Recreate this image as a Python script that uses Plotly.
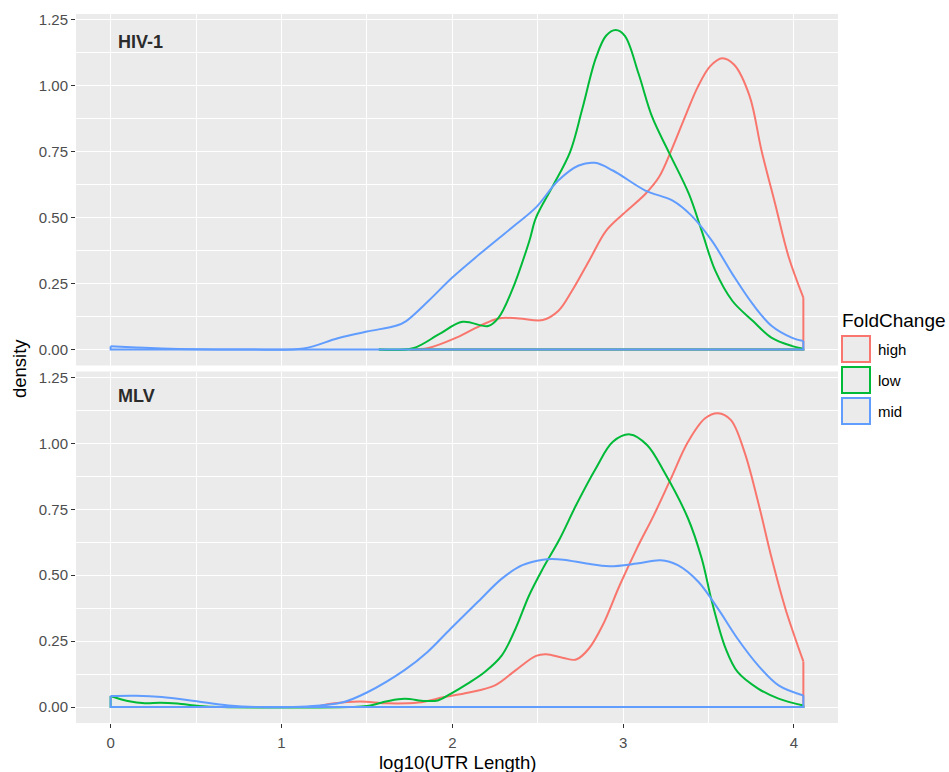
import plotly.graph_objects as go

# ---------------- data ----------------
groups = ["high", "low", "mid"]
colors = {"high": "#F8766D", "low": "#00BA38", "mid": "#619CFF"}

# HIV-1 panel
hiv_high_x = [1.75, 1.86, 2.02, 2.16, 2.27, 2.39, 2.53, 2.62, 2.70, 2.80, 2.90, 3.00, 3.13, 3.21,
              3.29, 3.37, 3.44, 3.51, 3.58, 3.65, 3.74, 3.81, 3.89, 3.97, 4.055]
hiv_high_y = [0.0, 0.006, 0.044, 0.089, 0.118, 0.118, 0.112, 0.146, 0.222, 0.336, 0.45, 0.514, 0.59, 0.654,
              0.768, 0.895, 1.0, 1.075, 1.105, 1.08, 0.962, 0.755, 0.552, 0.349, 0.197]

hiv_low_x = [1.57, 1.77, 1.92, 2.06, 2.21, 2.27, 2.35, 2.45, 2.49, 2.585, 2.69, 2.76, 2.84, 2.90, 2.956,
             3.01, 3.09, 3.17, 3.27, 3.385, 3.46, 3.54, 3.64, 3.76, 3.87, 3.99, 4.055]
hiv_low_y = [0.0, 0.005, 0.057, 0.105, 0.089, 0.12, 0.225, 0.41, 0.50, 0.616, 0.75, 0.91, 1.105, 1.19, 1.212,
             1.19, 1.047, 0.882, 0.745, 0.59, 0.45, 0.298, 0.184, 0.108, 0.044, 0.013, 0.003]

hiv_mid_x = [0.0, 0.15, 0.3, 0.5, 0.8, 1.13, 1.33, 1.5, 1.675, 1.73, 1.86, 2.0, 2.16, 2.35, 2.49, 2.62,
             2.74, 2.835, 2.94, 3.13, 3.29, 3.40, 3.52, 3.64, 3.76, 3.87, 3.99, 4.055]
hiv_mid_y = [0.012, 0.008, 0.004, 0.001, 0.0, 0.004, 0.043, 0.068, 0.091, 0.108, 0.184, 0.273, 0.362, 0.463,
             0.539, 0.641, 0.698, 0.708, 0.679, 0.603, 0.565, 0.508, 0.412, 0.286, 0.171, 0.089, 0.044, 0.032]

# MLV panel
mlv_high_x = [1.2, 1.30, 1.46, 1.62, 1.80, 1.955, 2.09, 2.25, 2.37, 2.49, 2.55, 2.65, 2.725, 2.80, 2.88,
              2.98, 3.08, 3.18, 3.28, 3.38, 3.48, 3.555, 3.63, 3.71, 3.79, 3.87, 3.95, 4.055]
mlv_high_y = [0.0, 0.013, 0.021, 0.014, 0.017, 0.038, 0.054, 0.082, 0.139, 0.194, 0.2, 0.186, 0.18, 0.222, 0.31,
              0.462, 0.601, 0.728, 0.867, 1.006, 1.095, 1.114, 1.089, 0.968, 0.778, 0.563, 0.373, 0.173]

mlv_low_x = [0.0, 0.1, 0.2, 0.29, 0.39, 0.52, 0.65, 1.4, 1.5, 1.62, 1.72, 1.84, 1.915, 1.99, 2.09, 2.19,
             2.29, 2.37, 2.45, 2.53, 2.63, 2.725, 2.84, 2.94, 3.04, 3.14, 3.24, 3.38, 3.46, 3.52, 3.60,
             3.67, 3.79, 3.91, 4.055]
mlv_low_y = [0.042, 0.023, 0.014, 0.016, 0.013, 0.004, 0.0, 0.0, 0.004, 0.022, 0.031, 0.023, 0.025, 0.05, 0.089,
             0.133, 0.196, 0.297, 0.424, 0.525, 0.639, 0.766, 0.905, 1.006, 1.034, 0.994, 0.892, 0.715,
             0.563, 0.399, 0.222, 0.133, 0.07, 0.032, 0.006]

mlv_mid_x = [0.0, 0.15, 0.3, 0.49, 0.69, 0.85, 1.15, 1.36, 1.5, 1.72, 1.855, 1.99, 2.15, 2.29, 2.41, 2.53,
             2.65, 2.785, 2.92, 3.08, 3.22, 3.32, 3.44, 3.555, 3.67, 3.79, 3.91, 4.055]
mlv_mid_y = [0.042, 0.043, 0.038, 0.023, 0.006, 0.0, 0.002, 0.018, 0.055, 0.14, 0.209, 0.297, 0.399, 0.487,
             0.538, 0.559, 0.559, 0.544, 0.534, 0.544, 0.557, 0.538, 0.475, 0.373, 0.259, 0.158, 0.082, 0.044]

panels = [
    ("HIV-1", {"high": (hiv_high_x, hiv_high_y), "low": (hiv_low_x, hiv_low_y), "mid": (hiv_mid_x, hiv_mid_y)}),
    ("MLV", {"high": (mlv_high_x, mlv_high_y), "low": (mlv_low_x, mlv_low_y), "mid": (mlv_mid_x, mlv_mid_y)}),
]

x_ticks = [0, 1, 2, 3, 4]
x_tick_labels = ["0", "1", "2", "3", "4"]
y_ticks = [0.0, 0.25, 0.5, 0.75, 1.0, 1.25]
y_tick_labels = ["0.00", "0.25", "0.50", "0.75", "1.00", "1.25"]

# ---------------- layout geometry ----------------
W, H = 949, 772
L, R, T, B = 76, 111, 14, 49
PW, PH = W - L - R, H - T - B
gap = 6
panel_h = (PH - gap) / 2.0

def px_x(px):
    return (px - L) / PW

def px_y(py):
    return (H - B - py) / PH

x_range = [-0.2028, 4.2578]
y_range = [-0.0606, 1.2726]
FONT = "Liberation Sans, Arial, Helvetica, sans-serif"

fig = go.Figure()

for pi, (pname, pdata) in enumerate(panels):
    xa = "x" if pi == 0 else "x2"
    ya = "y" if pi == 0 else "y2"
    for g in groups:
        xs, ys = pdata[g]
        col = colors[g]
        fig.add_trace(go.Scatter(x=xs, y=ys, mode="lines", xaxis=xa, yaxis=ya,
                                 line=dict(color=col, width=2, shape="spline", smoothing=1.0),
                                 showlegend=False, hoverinfo="skip"))
        # closing edges of the density polygon
        fig.add_trace(go.Scatter(x=[xs[-1], xs[-1], xs[0], xs[0]],
                                 y=[ys[-1], 0, 0, ys[0]],
                                 mode="lines", xaxis=xa, yaxis=ya,
                                 line=dict(color=col, width=2),
                                 showlegend=False, hoverinfo="skip"))

axis_common = dict(
    showline=False, zeroline=False,
    gridcolor="white", gridwidth=1.4,
    tickfont=dict(family=FONT, size=15, color="#4D4D4D"),
    tickcolor="#333333", ticklen=4, tickwidth=1,
)
minor_x = dict(tickvals=[0.5, 1.5, 2.5, 3.5], showgrid=True, gridcolor="white", gridwidth=0.7)
minor_y = dict(tickvals=[0.125, 0.375, 0.625, 0.875, 1.125], showgrid=True, gridcolor="white", gridwidth=0.7)

fig.update_layout(
    width=W, height=H,
    margin=dict(l=L, r=R, t=T, b=B, autoexpand=False),
    paper_bgcolor="white", plot_bgcolor="#EBEBEB",
    showlegend=False,
    font=dict(family=FONT),
    xaxis=dict(domain=[0, 1], anchor="y", range=x_range, matches="x2",
               tickvals=x_ticks, ticktext=x_tick_labels, showticklabels=False, ticks="",
               minor=minor_x,
               **{k: v for k, v in axis_common.items() if k != "ticklen"}),
    yaxis=dict(domain=[(panel_h + gap) / PH, 1], anchor="x", range=y_range,
               tickvals=y_ticks, ticktext=y_tick_labels, ticks="outside",
               minor=minor_y, **axis_common),
    xaxis2=dict(domain=[0, 1], anchor="y2", range=x_range,
                tickvals=x_ticks, ticktext=x_tick_labels, ticks="outside", ticklabelstandoff=2,
                minor=minor_x, **axis_common),
    yaxis2=dict(domain=[0, panel_h / PH], anchor="x2", range=y_range,
                tickvals=y_ticks, ticktext=y_tick_labels, ticks="outside",
                minor=minor_y, **axis_common),
)

annotations = []
# panel labels
annotations.append(dict(text="<b>HIV-1</b>", x=px_x(116), y=px_y(41.5), xref="paper", yref="paper",
                        xanchor="left", yanchor="middle", showarrow=False,
                        font=dict(family=FONT, size=18, color="#2B2B2B")))
annotations.append(dict(text="<b>MLV</b>", x=px_x(116), y=px_y(396), xref="paper", yref="paper",
                        xanchor="left", yanchor="middle", showarrow=False,
                        font=dict(family=FONT, size=18, color="#2B2B2B")))
# axis titles
annotations.append(dict(text="density", x=px_x(19), y=px_y(368), xref="paper", yref="paper",
                        xanchor="center", yanchor="middle", textangle=-90, showarrow=False,
                        font=dict(family=FONT, size=18.5, color="black")))
annotations.append(dict(text="log10(UTR Length)", x=px_x(457), y=px_y(762.5), xref="paper", yref="paper",
                        xanchor="center", yanchor="middle", showarrow=False,
                        font=dict(family=FONT, size=18.5, color="black")))
# legend
annotations.append(dict(text="FoldChange", x=px_x(840), y=px_y(320), xref="paper", yref="paper",
                        xanchor="left", yanchor="middle", showarrow=False,
                        font=dict(family=FONT, size=19, color="black")))
shapes = []
key_tops = [335, 366, 397]
for g, top in zip(groups, key_tops):
    shapes.append(dict(type="rect", xref="paper", yref="paper",
                       x0=px_x(842), x1=px_x(870), y0=px_y(top + 27), y1=px_y(top + 1),
                       fillcolor="#EBEBEB", line=dict(color=colors[g], width=2)))
    annotations.append(dict(text=g, x=px_x(876), y=px_y(top + 14), xref="paper", yref="paper",
                            xanchor="left", yanchor="middle", showarrow=False,
                            font=dict(family=FONT, size=15, color="black")))

fig.update_layout(annotations=annotations, shapes=shapes)

fig.write_html("out.html", config={"displayModeBar": False},
               post_script="document.body.style.margin='0';document.body.style.overflow='hidden';")
